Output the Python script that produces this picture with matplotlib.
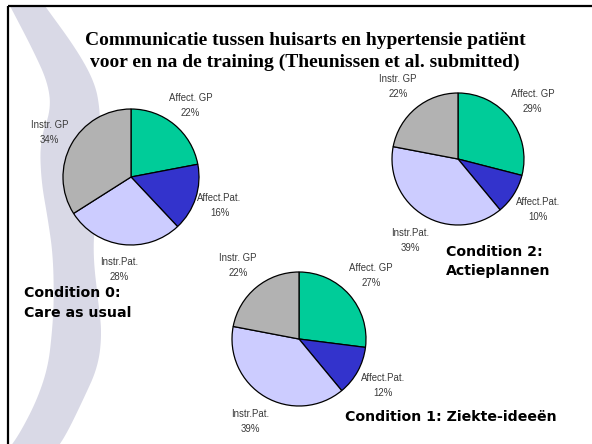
import numpy as np
import matplotlib
matplotlib.use("Agg")
import matplotlib.pyplot as plt
from matplotlib.patches import Polygon

W, H = 592, 444

# ---- data ----
categories = ["Affect. GP", "Affect.Pat.", "Instr.Pat.", "Instr. GP"]
colors = ["#00CC99", "#3333CC", "#CCCCFF", "#B2B2B2"]
cond0_values = [22, 16, 28, 34]
cond2_values = [29, 10, 39, 22]
cond1_values = [27, 12, 39, 22]

title_lines = ["Communicatie tussen huisarts en hypertensie patiënt",
               "voor en na de training (Theunissen et al. submitted)"]
cond0_text = ["Condition 0:", "Care as usual"]
cond2_text = ["Condition 2:", "Actieplannen"]
cond1_text = ["Condition 1: Ziekte-ideeën"]

fig = plt.figure(figsize=(W / 100, H / 100), dpi=100)
ax = fig.add_axes([0, 0, 1, 1])

def Y(y):
    return H - y

def chaikin(pts, n=3):
    pts = np.asarray(pts, float)
    for _ in range(n):
        q = 0.75 * pts[:-1] + 0.25 * pts[1:]
        r = 0.25 * pts[:-1] + 0.75 * pts[1:]
        new = np.empty((2 * len(q), 2))
        new[0::2] = q
        new[1::2] = r
        pts = np.vstack([pts[:1], new, pts[-1:]])
    return pts

# decorative swoosh (pixel layout)
band = [(6, 10, 45), (50, 33, 77), (83, 48, 95), (110, 51, 100), (140, 40, 100),
        (180, 41, 98), (220, 48, 95), (255, 53, 93), (300, 54, 98), (333, 52, 102),
        (367, 48, 98), (400, 37, 83), (433, 20, 67), (450, 8, 56)]
left = chaikin([(xl, Y(y)) for y, xl, xr in band])
right = chaikin([(xr, Y(y)) for y, xl, xr in band])[::-1]
ax.add_patch(Polygon(np.vstack([left, right]), closed=True, facecolor="#D9D9E6",
                     edgecolor="none", zorder=0))

label_font = ["Liberation Sans", "DejaVu Sans"]

def draw_pie(values, cx, cy, r, ldist):
    ax.pie(values, colors=colors, startangle=90, counterclock=False,
           center=(cx, Y(cy)), radius=r, frame=True,
           wedgeprops=dict(edgecolor="black", linewidth=0.9))
    total = float(sum(values))
    cum = 0.0
    for name, v in zip(categories, values):
        mid = 90 - (cum + v / 2) / total * 360
        cum += v
        th = np.deg2rad(mid)
        tx = cx + ldist * r * np.cos(th)
        ty = Y(cy) + ldist * r * np.sin(th)
        ax.text(tx, ty, f"{name}\n{v}%", ha="center", va="center",
                fontsize=6.9, color="#3a3a3a", family=label_font,
                linespacing=1.6, zorder=5)

draw_pie(cond0_values, 131, 177, 68, 1.37)
draw_pie(cond2_values, 458, 159, 66, 1.43)
draw_pie(cond1_values, 299, 339, 67, 1.43)

# title
for i, line in enumerate(title_lines):
    ax.text(305, Y(41 + i * 21), line, ha="center", va="center",
            fontsize=14, fontweight="bold", family="Liberation Serif",
            color="black")

cond_kw = dict(fontsize=10.2, fontweight="bold", family="DejaVu Sans",
               color="black", ha="left", va="center")
for i, line in enumerate(cond0_text):
    ax.text(24, Y(293 + i * 20), line, **cond_kw)
for i, line in enumerate(cond2_text):
    ax.text(446, Y(252 + i * 19), line, **cond_kw)
for i, line in enumerate(cond1_text):
    ax.text(345, Y(417 + i * 19), line, **cond_kw)

# frame lines
ax.plot([8, W], [Y(6), Y(6)], color="black", lw=1.6, solid_capstyle="butt")
ax.plot([8, 8], [Y(6), 0], color="black", lw=1.6, solid_capstyle="butt")

ax.set_xlim(0, W)
ax.set_ylim(0, H)
ax.set_aspect("auto")
ax.axis("off")

fig.savefig("out.png", dpi=100, facecolor="white")
